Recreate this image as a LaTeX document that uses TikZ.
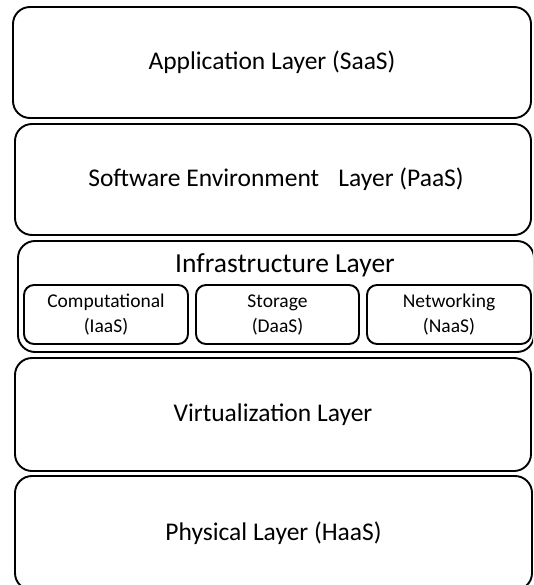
\documentclass[tikz,border=0pt]{standalone}
\usepackage{fontspec}
\setmainfont{Carlito}
\tikzset{
  layer/.style={draw, line width=1.9pt, rounded corners=17pt, inner sep=0pt,
    font=\fontsize{25.5}{30}\selectfont},
  service/.style={draw, line width=1.9pt, rounded corners=10pt, inner sep=0pt,
    align=center, minimum width=164pt, minimum height=59pt,
    font=\fontsize{19.5}{25}\selectfont},
}
\begin{document}
\begin{tikzpicture}[x=1pt, y=-1pt]
  \useasboundingbox (0,0) rectangle (533,585);
  \clip (0,0) rectangle (533,585);
  % Layers
  \node[layer, minimum width=518pt, minimum height=111pt] (app) at (272,62.5) {Application Layer (SaaS)};
  \node[layer, minimum width=516pt, minimum height=111pt] (soft) at (273,179.5) {\hspace{6pt}Software Environment\hspace{0.75em}Layer (PaaS)};
  \node[layer, minimum width=516pt, minimum height=111pt] (infra) at (276,296.5) {};
  \node[font=\fontsize{27.5}{32}\selectfont] (infratitle) at (285,265) {Infrastructure Layer};
  \node[layer, minimum width=516pt, minimum height=113pt] (virt) at (273,414.5) {Virtualization Layer};
  \node[layer, minimum width=517pt, minimum height=114pt] (phys) at (273.5,533) {Physical Layer (HaaS)};

  % Services
  \node[service] (comp) at (106,314.5) {Computational\\(IaaS)};
  \node[service, minimum width=163pt] (stor) at (277.5,314.5) {Storage\vphantom{l}\\(DaaS)};
  \node[service] (net) at (449,314.5) {Networking\\(NaaS)};
\end{tikzpicture}
\end{document}
